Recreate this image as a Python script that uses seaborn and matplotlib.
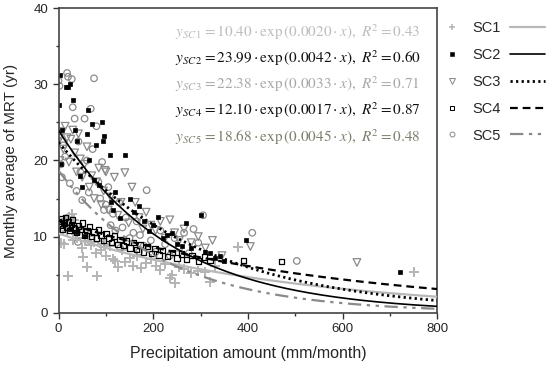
import numpy as np
import pandas as pd
import matplotlib
matplotlib.use("Agg")
import matplotlib.pyplot as plt
from matplotlib.lines import Line2D
import seaborn as sns

# ---------------- data ----------------
series = ["SC1", "SC2", "SC3", "SC4", "SC5"]

x1 = [2, 5, 8, 12, 15, 18, 20, 22, 25, 28, 30, 33, 36, 40, 45, 50, 52, 55, 60, 62, 68, 75, 80, 81,
      90, 95, 100, 108, 115, 120, 126, 135, 140, 150, 158, 165, 175, 185, 195, 205, 215, 225, 235,
      240, 245, 255, 265, 280, 295, 310, 320, 330, 379, 751]
y1 = [10.5, 9.2, 11.8, 9.0, 12.3, 10.8, 4.8, 12.6, 11.5, 13.0, 9.6, 12.2, 10.3, 9.8, 11.0, 8.5, 7.3,
      9.4, 6.0, 10.1, 8.9, 9.3, 7.8, 4.8, 8.2, 9.0, 7.5, 8.8, 7.0, 6.8, 6.0, 8.3, 6.6, 7.2, 6.2, 7.4,
      5.9, 6.5, 7.0, 6.1, 5.6, 6.4, 4.5, 5.0, 3.9, 6.0, 5.8, 5.2, 5.5, 5.3, 4.0, 6.2, 8.6, 5.4]

x2 = [0, 3, 5, 8, 15, 20, 25, 30, 35, 40, 45, 50, 62, 60, 65, 70, 75, 80, 85, 91, 97, 94, 109, 110,
      115, 120, 130, 140, 150, 160, 170, 180, 190, 200, 210, 220, 230, 240, 250, 260, 270, 280, 300,
      310, 320, 330, 340, 350, 395, 720, 10, 25, 40, 55]
y2 = [27.3, 31.3, 19.5, 24.0, 29.6, 29.7, 30.0, 28.0, 24.0, 22.5, 18.0, 16.5, 26.7, 23.5, 20.0, 24.8,
      17.5, 22.0, 16.8, 25.1, 23.2, 22.5, 20.7, 14.5, 13.5, 15.8, 12.5, 20.7, 15.0, 13.2, 14.0, 12.0,
      10.8, 11.5, 12.6, 9.8, 10.2, 10.5, 9.0, 8.7, 11.8, 8.5, 12.9, 8.0, 7.8, 7.2, 7.5, 6.8, 9.5, 5.4,
      11.6, 11.0, 10.6, 10.1]

x3 = [0, 1, 3, 6, 10, 14, 18, 22, 26, 30, 34, 38, 42, 46, 50, 55, 60, 65, 70, 75, 80, 85, 90, 95, 98,
      100, 105, 110, 118, 125, 132, 140, 148, 155, 162, 170, 178, 185, 195, 205, 215, 225, 235, 245,
      255, 265, 280, 295, 310, 325, 345, 405, 630]
y3 = [22.5, 23.0, 20.0, 23.8, 21.5, 24.5, 23.0, 19.8, 22.8, 24.0, 21.0, 18.5, 23.5, 20.2, 17.8, 19.5,
      21.8, 16.5, 18.0, 15.0, 17.2, 19.0, 14.2, 16.0, 18.7, 18.5, 13.5, 15.2, 17.8, 12.8, 14.5, 18.4,
      11.8, 16.5, 14.5, 12.5, 11.0, 13.2, 11.5, 10.8, 12.0, 9.8, 12.2, 10.5, 9.5, 11.0, 9.2, 10.0, 8.5,
      9.5, 7.5, 8.7, 6.6]

x4 = [0, 3, 6, 9, 12, 15, 18, 21, 24, 27, 30, 34, 38, 42, 46, 50, 55, 60, 65, 70, 75, 80, 85, 90, 95,
      100, 106, 112, 118, 124, 130, 137, 144, 151, 158, 165, 172, 180, 188, 196, 204, 212, 220, 230,
      240, 250, 260, 270, 282, 295, 308, 320, 390, 471]
y4 = [12.0, 11.5, 12.3, 11.0, 11.8, 12.5, 11.2, 11.9, 10.8, 11.6, 12.2, 11.0, 10.5, 11.4, 10.9, 11.8,
      10.2, 10.8, 11.3, 10.0, 10.6, 9.8, 10.9, 10.2, 9.5, 10.4, 9.8, 9.2, 10.1, 9.0, 9.6, 8.8, 9.4, 8.5,
      9.2, 8.3, 8.9, 8.0, 8.7, 7.8, 8.4, 7.6, 8.2, 7.4, 7.9, 7.2, 7.7, 7.0, 7.5, 6.8, 7.3, 6.9, 6.9, 6.7]

x5 = [0, 2, 5, 7, 10, 14, 18, 20, 24, 28, 30, 34, 38, 41, 42, 46, 50, 55, 60, 64, 68, 72, 75, 80, 84,
      88, 90, 92, 96, 100, 105, 110, 115, 120, 128, 130, 135, 142, 150, 158, 165, 170, 172, 180, 186,
      195, 205, 215, 225, 235, 245, 255, 265, 275, 285, 295, 305, 409, 503]
y5 = [30.5, 29.8, 19.5, 17.8, 22.0, 20.5, 31.5, 31.0, 17.0, 30.7, 27.0, 25.5, 16.0, 9.3, 22.5, 18.5,
      14.8, 25.5, 20.0, 15.8, 26.8, 21.5, 30.8, 24.5, 17.2, 15.0, 9.0, 19.8, 13.5, 14.2, 16.5, 11.5,
      13.0, 10.8, 14.5, 8.5, 11.2, 12.5, 9.8, 10.5, 12.0, 8.0, 10.2, 8.8, 16.1, 9.5, 8.0, 10.8, 9.0,
      7.5, 9.8, 8.5, 10.5, 7.8, 11.0, 9.2, 12.8, 10.5, 6.8]

# fitted exponential parameters (a, b) : y = a * exp(-b * x)
fit_a = [10.40, 23.99, 22.38, 12.10, 18.68]
fit_b = [0.0020, 0.0042, 0.0033, 0.0017, 0.0045]
fit_r2 = ["0.43", "0.60", "0.71", "0.87", "0.48"]

# ---------------- styles ----------------
marker_style = {
    "SC1": dict(marker="+", s=42, color="#b4b4b4", linewidths=1.4),
    "SC2": dict(marker="s", s=11, color="black", edgecolor="black", linewidths=0.5),
    "SC3": dict(marker="v", s=30, facecolor="none", edgecolor="#8a8a8a", linewidths=0.9),
    "SC4": dict(marker="s", s=15, facecolor="none", edgecolor="black", linewidths=0.9),
    "SC5": dict(marker="o", s=22, facecolor="none", edgecolor="#8a8a8a", linewidths=0.9),
}
line_style = {
    "SC1": dict(color="#b8b8b8", lw=1.6, ls="-"),
    "SC2": dict(color="black", lw=1.2, ls="-"),
    "SC3": dict(color="black", lw=2.0, ls=(0, (0.8, 1.2))),
    "SC4": dict(color="black", lw=1.6, ls=(0, (3.5, 2.2))),
    "SC5": dict(color="#8a8a8a", lw=1.6, ls=(0, (6, 2.5, 1.5, 2.5, 1.5, 2.5))),
}
eq_colors = ["#bdbdbd", "#111111", "#a8a8a8", "#111111", "#7e7e6c"]

xs = [x1, x2, x3, x4, x5]
ys = [y1, y2, y3, y4, y5]
pts = pd.concat([pd.DataFrame({"x": x, "y": y, "series": s}) for s, x, y in zip(series, xs, ys)],
                ignore_index=True)

xgrid = np.linspace(0, 800, 400)
curves = pd.concat([pd.DataFrame({"x": xgrid, "y": a * np.exp(-b * xgrid), "series": s})
                    for s, a, b in zip(series, fit_a, fit_b)], ignore_index=True)

# ---------------- figure ----------------
sns.set_style("ticks")
plt.rcParams["font.family"] = ["Liberation Sans", "DejaVu Sans"]
plt.rcParams["mathtext.fontset"] = "stix"

fig = plt.figure(figsize=(5.5, 3.72), dpi=100)
ax = fig.add_axes([0.1064, 0.1594, 0.689, 0.8183])

order = ["SC1", "SC5", "SC3", "SC4", "SC2"]
for s in order:
    sns.scatterplot(data=pts[pts.series == s], x="x", y="y", ax=ax, legend=False,
                    zorder=2, **marker_style[s])
for s in series:
    st = line_style[s]
    sns.lineplot(data=curves[curves.series == s], x="x", y="y", ax=ax, legend=False,
                 color=st["color"], lw=st["lw"], linestyle=st["ls"], zorder=3)

ax.set_xlim(0, 800)
ax.set_ylim(0, 40)
ax.set_xticks([0, 200, 400, 600, 800])
ax.set_yticks([0, 10, 20, 30, 40])
ax.set_xticks([100, 300, 500, 700], minor=True)
ax.set_yticks([5, 15, 25, 35], minor=True)
ax.tick_params(which="major", direction="out", length=4, width=1.0, labelsize=9.5, color="#333333")
ax.tick_params(which="minor", direction="out", length=2.5, width=1.0, color="#333333")
for sp in ax.spines.values():
    sp.set_visible(True)
    sp.set_color("#444444")
    sp.set_linewidth(1.2)

ax.set_xlabel("Precipitation amount (mm/month)", fontsize=11.5, labelpad=8)
ax.set_ylabel("Monthly average of MRT (yr)", fontsize=11)
ax.yaxis.set_label_coords(-0.108, 0.5)

# equations
eq_y = [0.922, 0.835, 0.750, 0.665, 0.578]
for i, s in enumerate(series):
    txt = (r"$y_{%s}=%.2f\cdot\exp\left(%.4f\cdot x\right),\ R^2=%s$"
           % (s.replace("SC", "SC\\,"), fit_a[i], fit_b[i], fit_r2[i]))
    ax.text(0.307, eq_y[i], txt, transform=ax.transAxes, ha="left", va="center",
            fontsize=11, color=eq_colors[i])

# legend: marker, label, line sample
mk_handles = []
for s in series:
    st = marker_style[s]
    fc = st.get("facecolor", st.get("color"))
    ec = st.get("edgecolor", st.get("color"))
    mk_handles.append(Line2D([], [], ls="none", marker=st["marker"],
                             markersize=np.sqrt(st["s"]) * 0.75,
                             markerfacecolor=fc, markeredgecolor=ec,
                             markeredgewidth=st["linewidths"] * 0.8))
ln_handles = [Line2D([], [], color=line_style[s]["color"], lw=line_style[s]["lw"],
                     ls=line_style[s]["ls"]) for s in series]

leg1 = fig.legend(mk_handles, series, loc="upper left", bbox_to_anchor=(0.808, 0.943),
                  frameon=False, fontsize=10.5, handlelength=1.0, handletextpad=0.9,
                  labelspacing=0.88, borderpad=0, borderaxespad=0)
leg2 = fig.legend(ln_handles, [" "] * 5, loc="upper left", bbox_to_anchor=(0.927, 0.943),
                  frameon=False, fontsize=10.5, handlelength=2.4, handletextpad=0.0,
                  labelspacing=0.88, borderpad=0, borderaxespad=0)

fig.savefig("out.png", dpi=100)
